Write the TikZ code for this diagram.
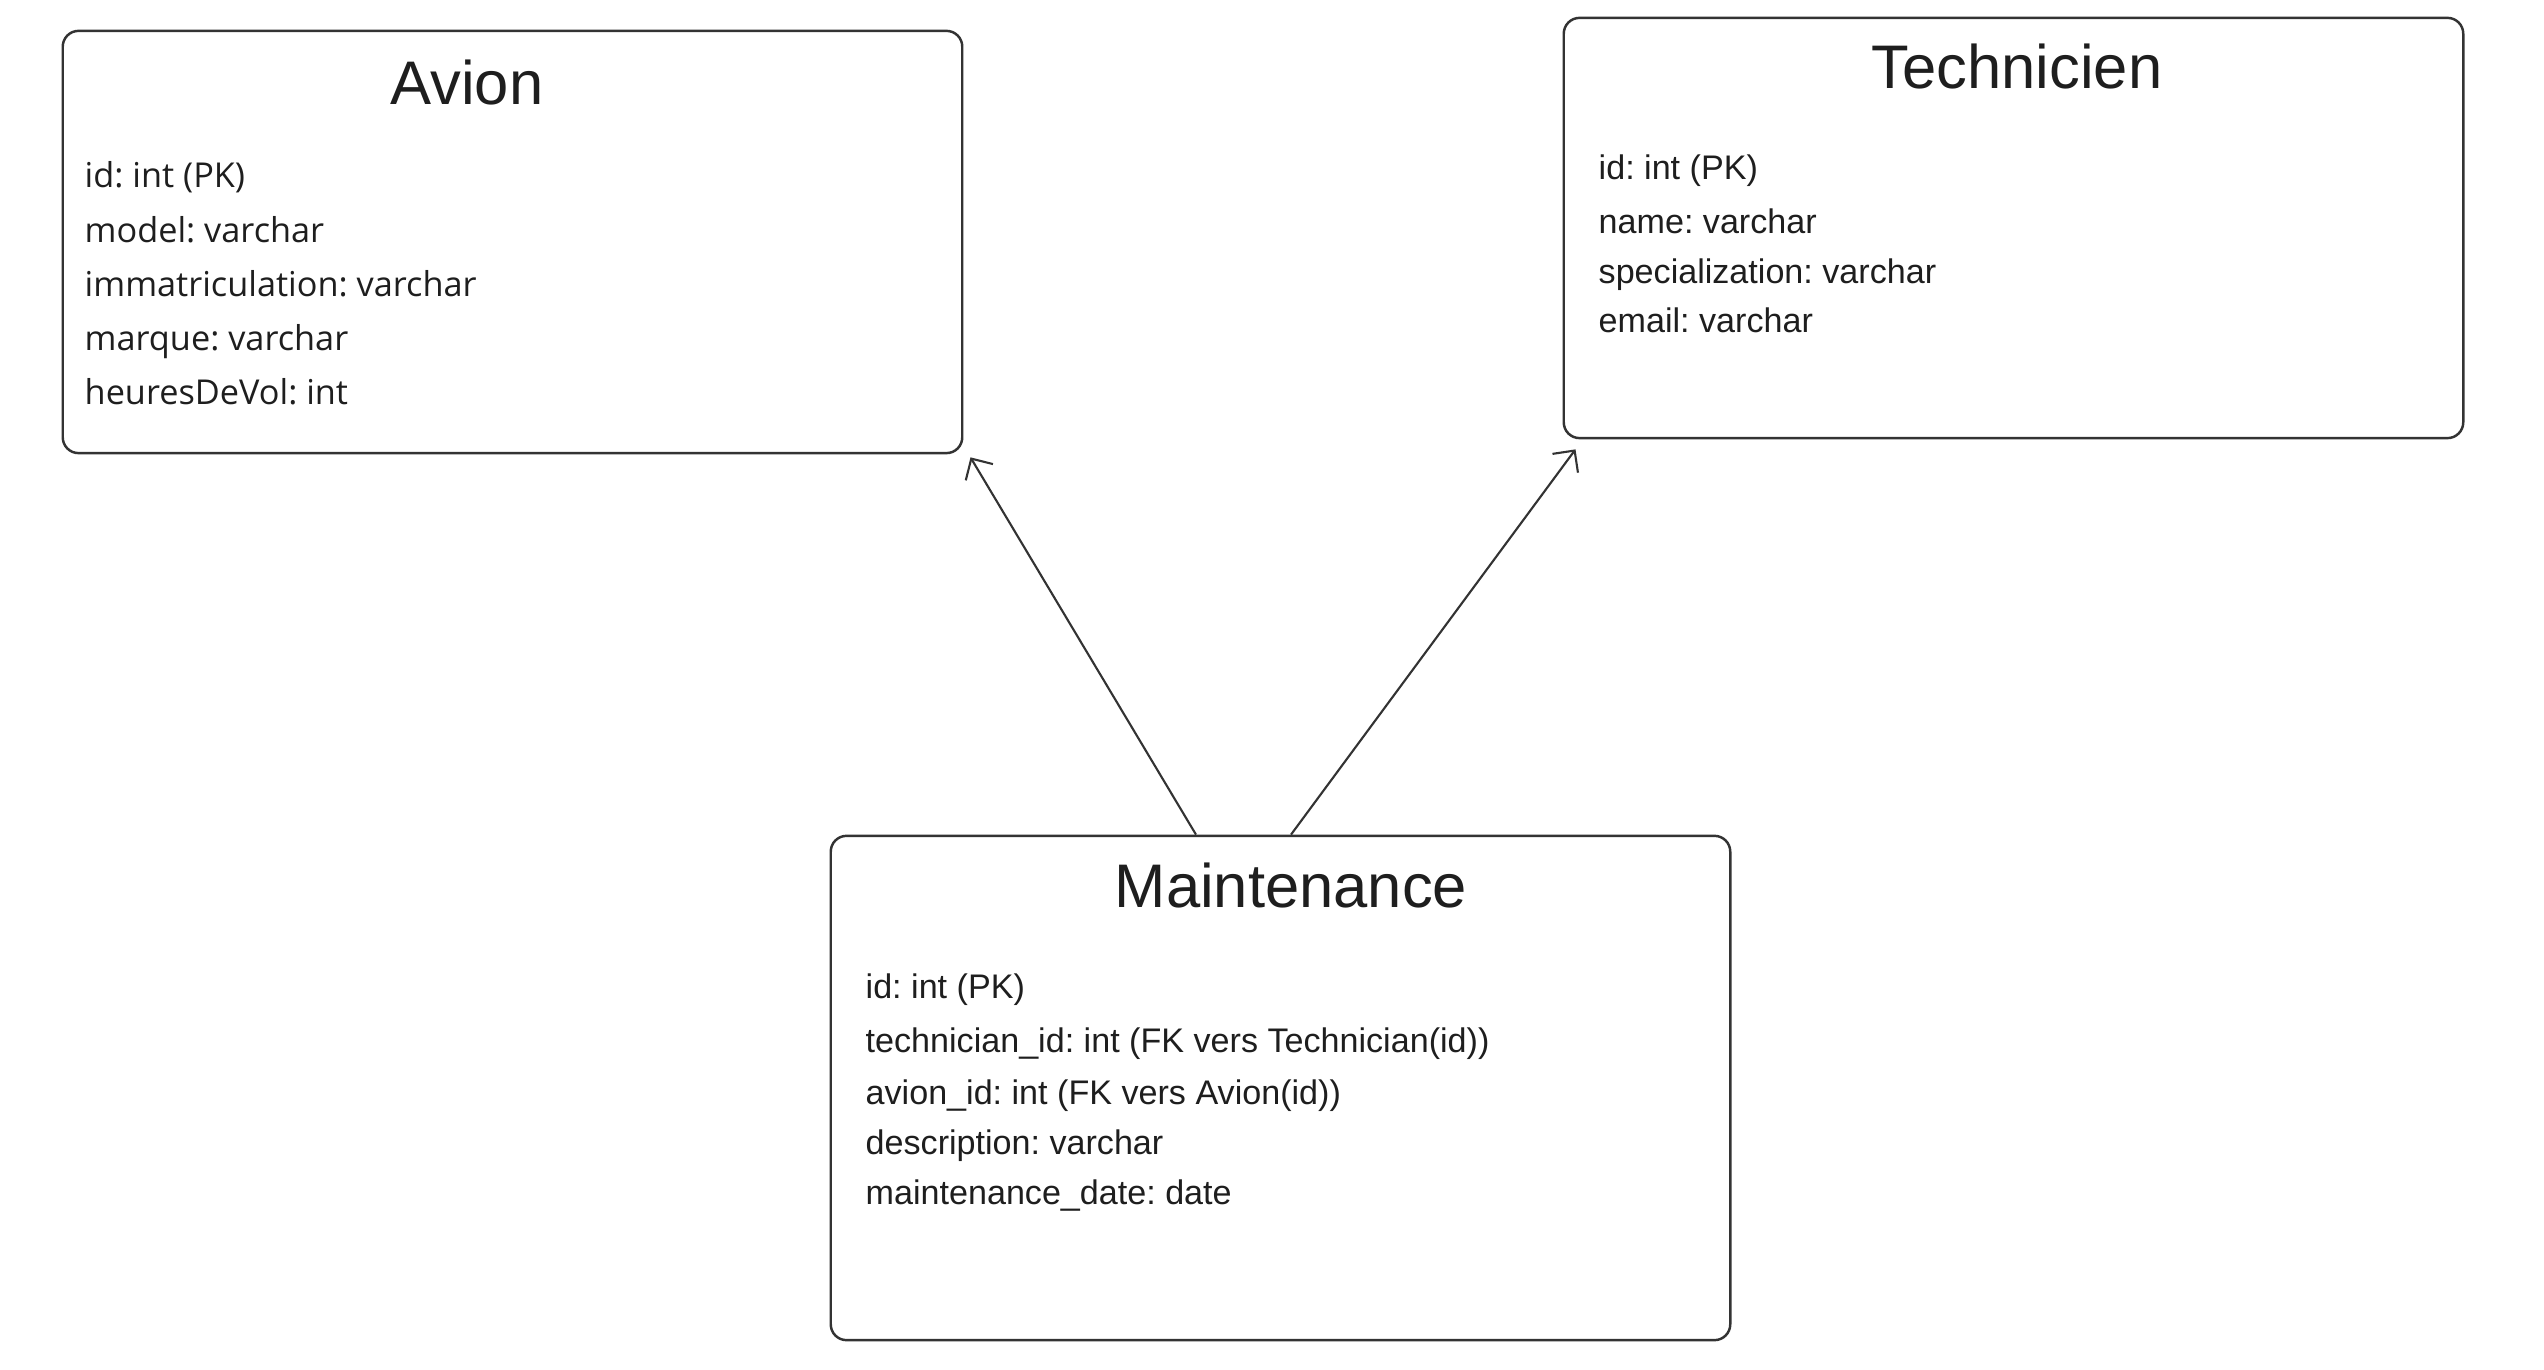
\documentclass[tikz,border=0pt]{standalone}
\usepackage{fontspec}
\setmainfont{Liberation Sans}
\newfontfamily\avionfont{Open Sans}
\usetikzlibrary{arrows.meta}
\definecolor{edge}{HTML}{333333}
\definecolor{ink}{HTML}{1E1E1E}
\frenchspacing

\begin{document}
\begin{tikzpicture}[x=0.01cm,y=-0.01cm,
	table/.style={draw=edge, line width=0.7pt, rounded corners=4.5pt, inner sep=0pt},
	title/.style={text=ink, inner sep=0pt, font=\fontsize{17.5}{20}\selectfont},
	field/.style={text=ink, inner sep=0pt, anchor=west, text height=0.74em, text depth=0.2em, font=\fontsize{9.7}{11}\selectfont},
	fk/.style={draw=edge, line width=0.6pt, -{Straight Barb[length=4.5pt,width=9pt]}}]
	\useasboundingbox (0,0) rectangle (2544,1370);
	%\draw [help lines] (0,0) grid (2544,1370);
	
	% tables
	\node [table, minimum width=8.99cm, minimum height=4.22cm] (avion) at (512.5,242) {};
	\node [table, minimum width=8.99cm, minimum height=4.20cm] (tech) at (2013.5,228) {};
	\node [table, minimum width=8.99cm, minimum height=5.04cm] (maint) at (1280.5,1088) {};
	
	\node [title] (avion-t) at (467,83) {Avion};
	\node [title] (tech-t) at (2017,67) {Technicien};
	\node [title] (maint-t) at (1291,886) {Maintenance};
	
	\foreach \txt/\y [count=\i] in {{id: int (PK)}/178,{model: varchar}/233,{immatriculation: varchar}/287,{marque: varchar}/341,{heuresDeVol: int}/395}
		\node [field, font=\avionfont\fontsize{9.75}{12}\selectfont] (av\i) at (84,\y) {\txt};
	
	\foreach \txt/\y [count=\i] in {{id: int (PK)}/170,{name: varchar}/224,{specialization: varchar}/274,{email: varchar}/323}
		\node [field] (te\i) at (1598,\y) {\txt};
	
	\foreach \txt/\y [count=\i] in {{id: int (PK)}/989,{technician\_id: int (FK vers Technician(id))}/1043,{avion\_id: int (FK vers Avion(id))}/1095,{description: varchar}/1145,{maintenance\_date: date}/1195}
		\node [field] (ma\i) at (865,\y) {\txt};
	
	% foreign keys
	\draw [fk] ([shift={(-84.5,0)}]maint.north) -- ([shift={(7,3)}]avion.south east);
	\draw [fk] ([shift={(10.5,0)}]maint.north) -- ([shift={(13,10)}]tech.south west);
\end{tikzpicture}
\end{document}
